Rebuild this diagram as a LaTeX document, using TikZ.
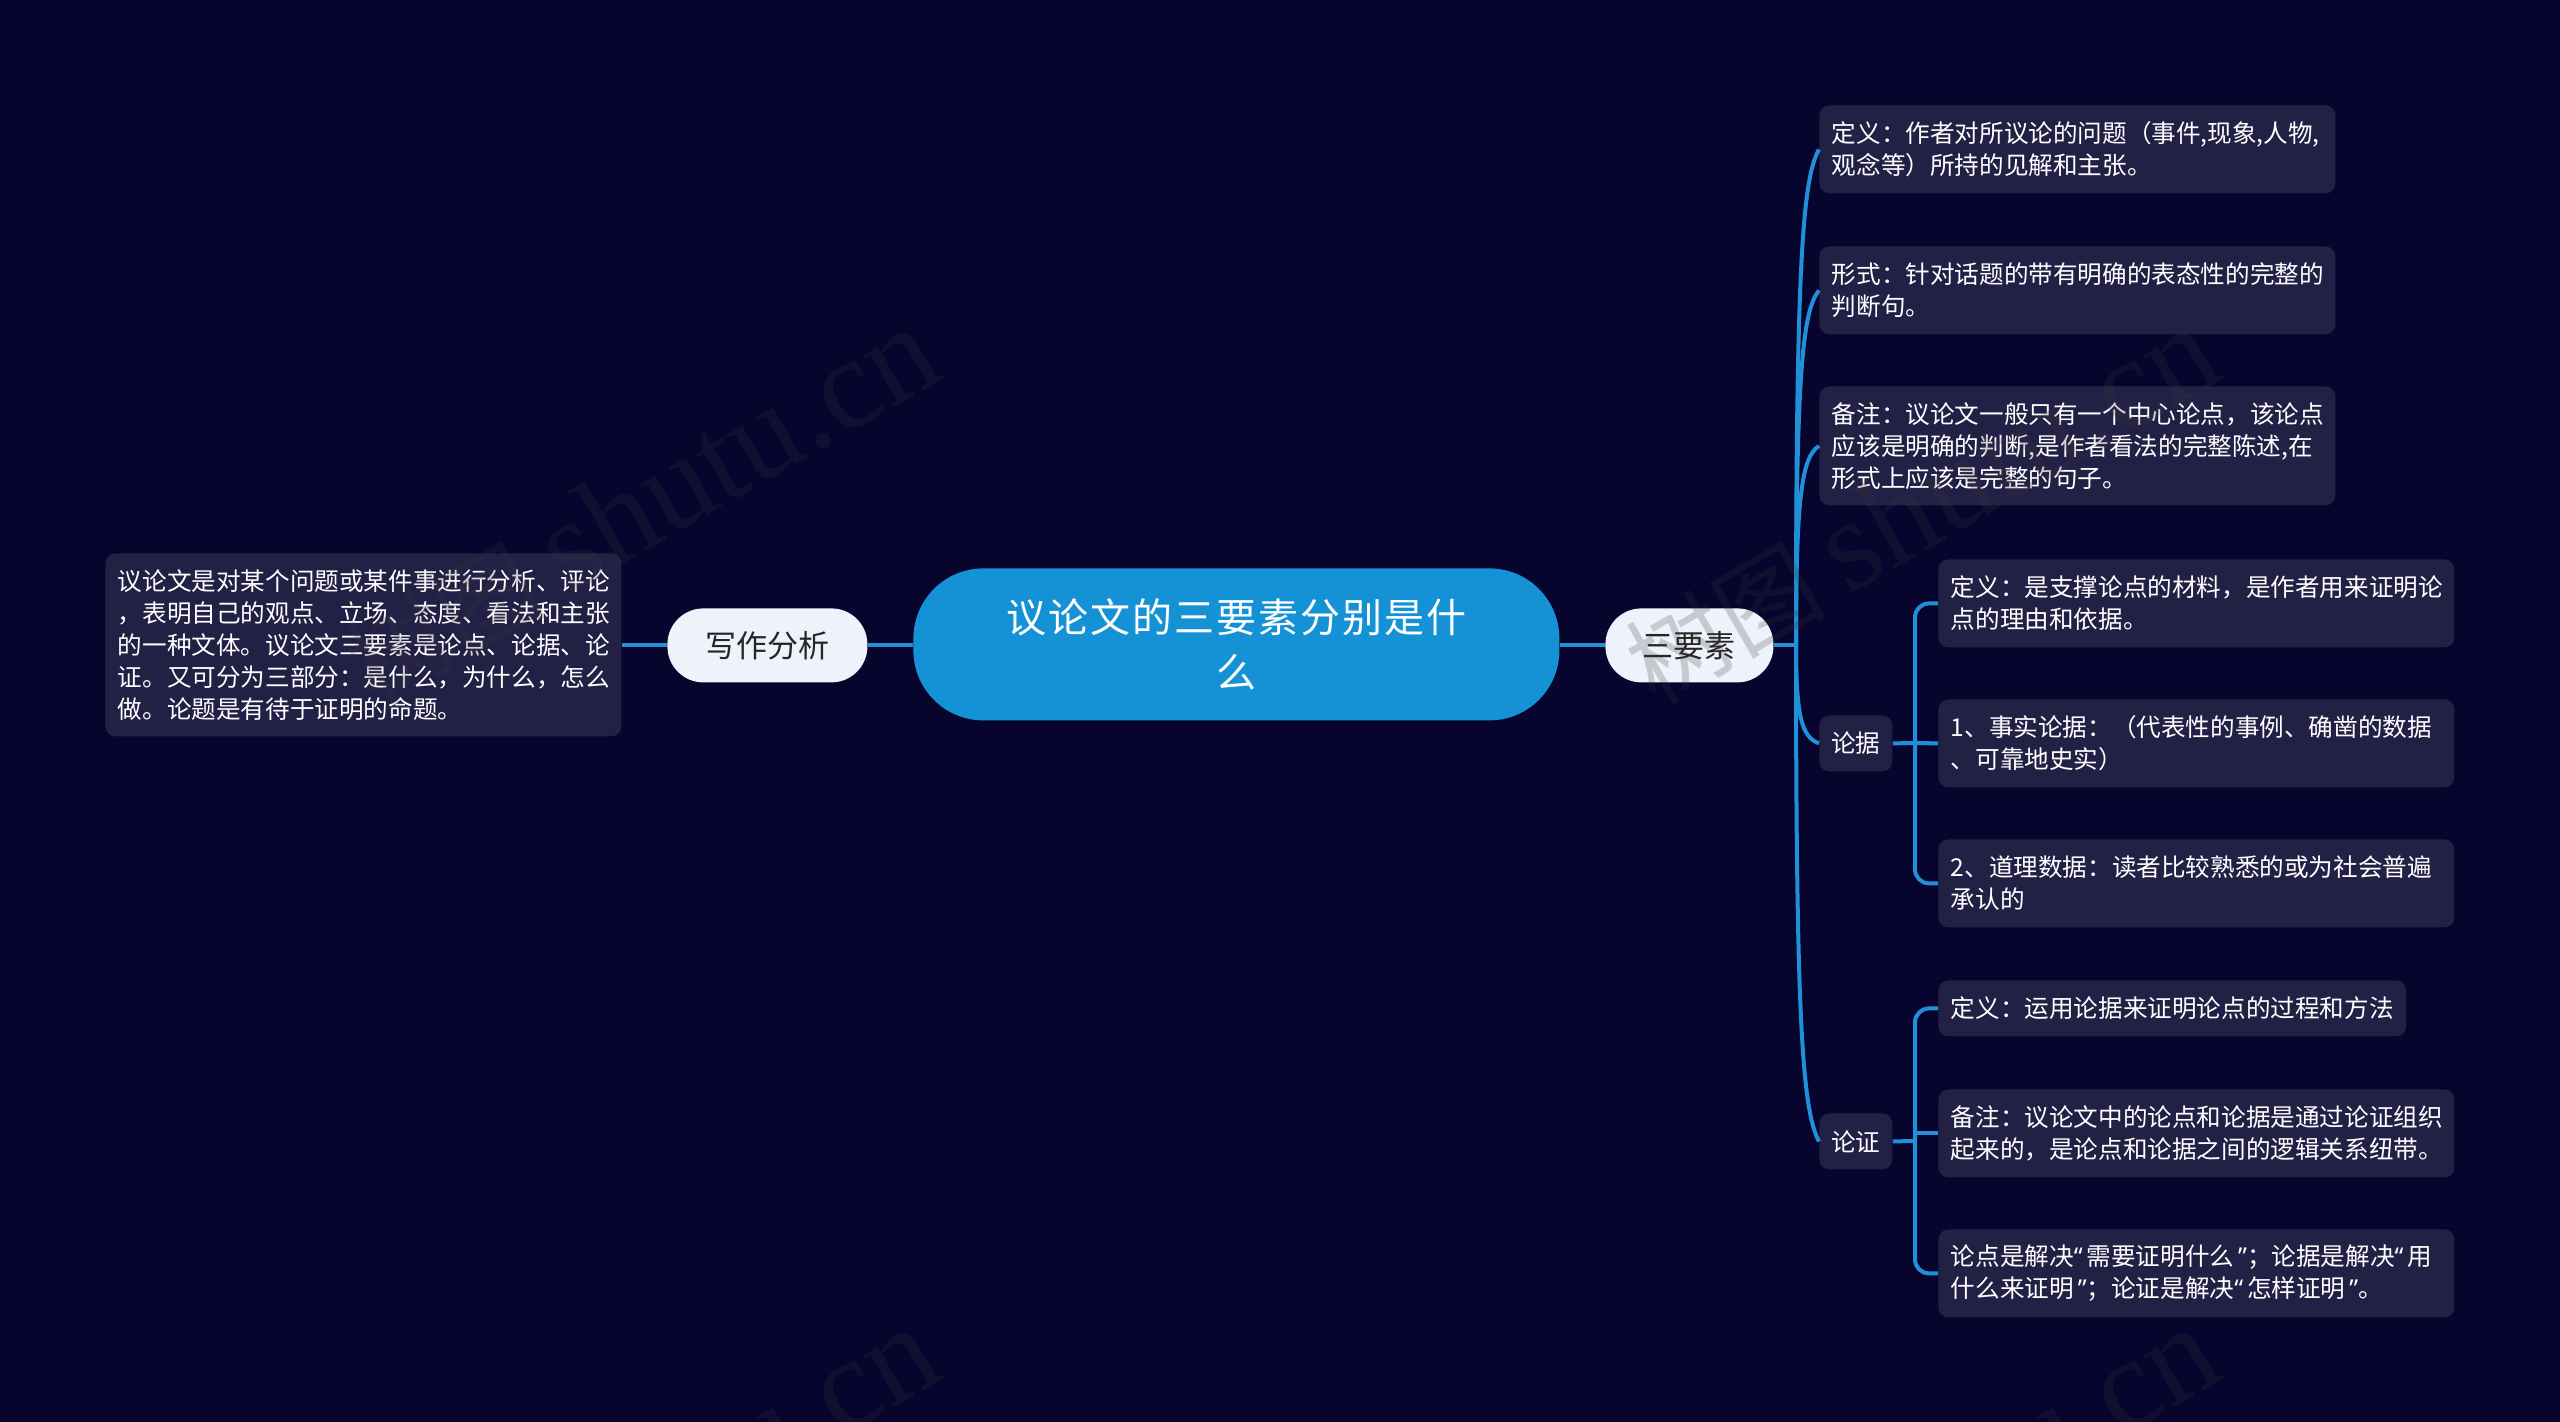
\documentclass[tikz,border=0pt]{standalone}
\usepackage{fontspec}
\setmainfont{Noto Sans CJK SC}
\newfontfamily\latq{Noto Sans}
\newfontfamily\titlefont[LetterSpace=5]{Noto Sans CJK SC}
\newfontfamily\wmfont{Liberation Serif}
\newcommand{\ql}{{\latq “}\kern.16em}
\newcommand{\qr}{\kern.16em{\latq ”}}
\newcommand{\wmtext}{\fontsize{50}{50}\selectfont 树图 \wmfont\fontsize{65}{65}\selectfont shutu.cn}
\definecolor{bgc}{HTML}{07042E}
\definecolor{boxc}{HTML}{232046}
\definecolor{linec}{HTML}{2090D8}
\definecolor{mainc}{HTML}{1592D5}
\definecolor{pillc}{HTML}{EEF3FB}
\definecolor{wmc}{HTML}{393939}
\tikzset{
  x=0.5pt,y=-0.5pt,
  tbox/.style={draw=none,fill=boxc,rounded corners=5pt,anchor=north west,inner xsep=6.25pt,inner ysep=0pt,
    text=white,align=left,font=\fontsize{12.3}{16}\selectfont},
  wide/.style={text width=245.5pt,minimum height=#1},
  tag/.style={draw=none,fill=boxc,rounded corners=5pt,anchor=north west,inner sep=0pt,text=white,align=center,
    minimum width=36.5pt,minimum height=28pt,font=\fontsize{12.3}{16}\selectfont},
  pill/.style={draw=none,fill=pillc,rounded corners=18pt,anchor=north west,inner sep=0pt,text=black!85,align=center,
    minimum height=37pt,font=\fontsize{15.5}{20}\selectfont},
  conn/.style={draw=linec,line width=2pt},
  wm/.style={text=wmc,opacity=0.22,text opacity=0.22,rotate=30,anchor=base east,inner sep=0pt},
}
\begin{document}
\begin{tikzpicture}
\useasboundingbox[fill=bgc] (0,0) rectangle (2560,1422);
% nodes
\node[draw=none,fill=mainc,rounded corners=35pt,anchor=north west,inner sep=0pt,minimum width=323pt,minimum height=76pt,
  text=white,align=center,font=\titlefont\fontsize{20}{27.75}\selectfont] (root) at (913,568) {议论文的三要素分别是什\\么};
\node[pill,minimum width=84pt] (sy) at (1605,608) {三要素};
\node[pill,minimum width=100pt] (xz) at (667,608) {写作分析};
\node[tbox,wide=91.5pt] (ll) at (105,553) {议论文是对某个问题或某件事进行分析、评论\\，表明自己的观点、立场、态度、看法和主张\\的一种文体。议论文三要素是论点、论据、论\\证。又可分为三部分：是什么，为什么，怎么\\做。论题是有待于证明的命题。};
\node[tbox,wide=44pt] (a1) at (1819,105) {定义：作者对所议论的问题（事件,现象,人物,\\观念等）所持的见解和主张。};
\node[tbox,wide=44pt] (a2) at (1819,246) {形式：针对话题的带有明确的表态性的完整的\\判断句。};
\node[tbox,wide=59.5pt] (a3) at (1819,386) {备注：议论文一般只有一个中心论点，该论点\\应该是明确的判断,是作者看法的完整陈述,在\\形式上应该是完整的句子。};
\node[tag] (lj) at (1819,715) {论据};
\node[tag] (lz) at (1819,1113) {论证};
\node[tbox,wide=44pt] (j1) at (1938,559) {定义：是支撑论点的材料，是作者用来证明论\\点的理由和依据。};
\node[tbox,wide=44pt] (j2) at (1938,699) {1、事实论据：（代表性的事例、确凿的数据\\、可靠地史实）};
\node[tbox,wide=44pt] (j3) at (1938,839) {2、道理数据：读者比较熟悉的或为社会普遍\\承认的};
\node[tbox,minimum height=28pt] (z1) at (1938,980) {定义：运用论据来证明论点的过程和方法};
\node[tbox,wide=44pt] (z2) at (1938,1089) {备注：议论文中的论点和论据是通过论证组织\\起来的，是论点和论据之间的逻辑关系纽带。};
\node[tbox,wide=44pt] (z3) at (1938,1229) {论点是解决\ql 需要证明什么\qr ；论据是解决\ql 用\\什么来证明\qr ；论证是解决\ql 怎样证明\qr 。};
% connectors
\coordinate (tr) at (1796,645);
\coordinate (jj) at (1915,743);
\coordinate (zz) at (1915,1141);
\draw[conn] (root.east |- tr) -- (sy.west |- tr);
\draw[conn] (sy.east |- tr) -- (tr);
\draw[conn] (xz.east |- tr) -- (root.west |- tr);
\draw[conn] (ll.east |- tr) -- (xz.west |- tr);
\draw[conn] (tr) .. controls (1796,273) and (1802,179) .. (a1.west);
\draw[conn] (tr) .. controls (1796,379) and (1802,311) .. (a2.west);
\draw[conn] (tr) .. controls (1796,495) and (1802,457) .. (a3.west);
\draw[conn] (tr) .. controls (1796,718) and (1802,737) .. (lj.west);
\draw[conn] (tr) .. controls (1796,1016) and (1802,1110) .. (lz.west);
\draw[conn] (lj.east) -- (jj);
\draw[conn,rounded corners=7pt] (jj) |- (j1.west);
\draw[conn] (jj) -- (j2.west);
\draw[conn,rounded corners=7pt] (jj) |- (j3.west);
\draw[conn] (lz.east) -- (zz);
\draw[conn,rounded corners=7pt] (zz) |- (z1.west);
\draw[conn] (zz) |- (z2.west);
\draw[conn,rounded corners=7pt] (zz) |- (z3.west);
% watermark
\node[wm] (w1) at (947,377) {\wmtext};
\node[wm] (w2) at (2227,377) {\wmtext};
\node[wm] (w3) at (947,1377) {\wmtext};
\node[wm] (w4) at (2227,1377) {\wmtext};
\end{tikzpicture}
\end{document}
